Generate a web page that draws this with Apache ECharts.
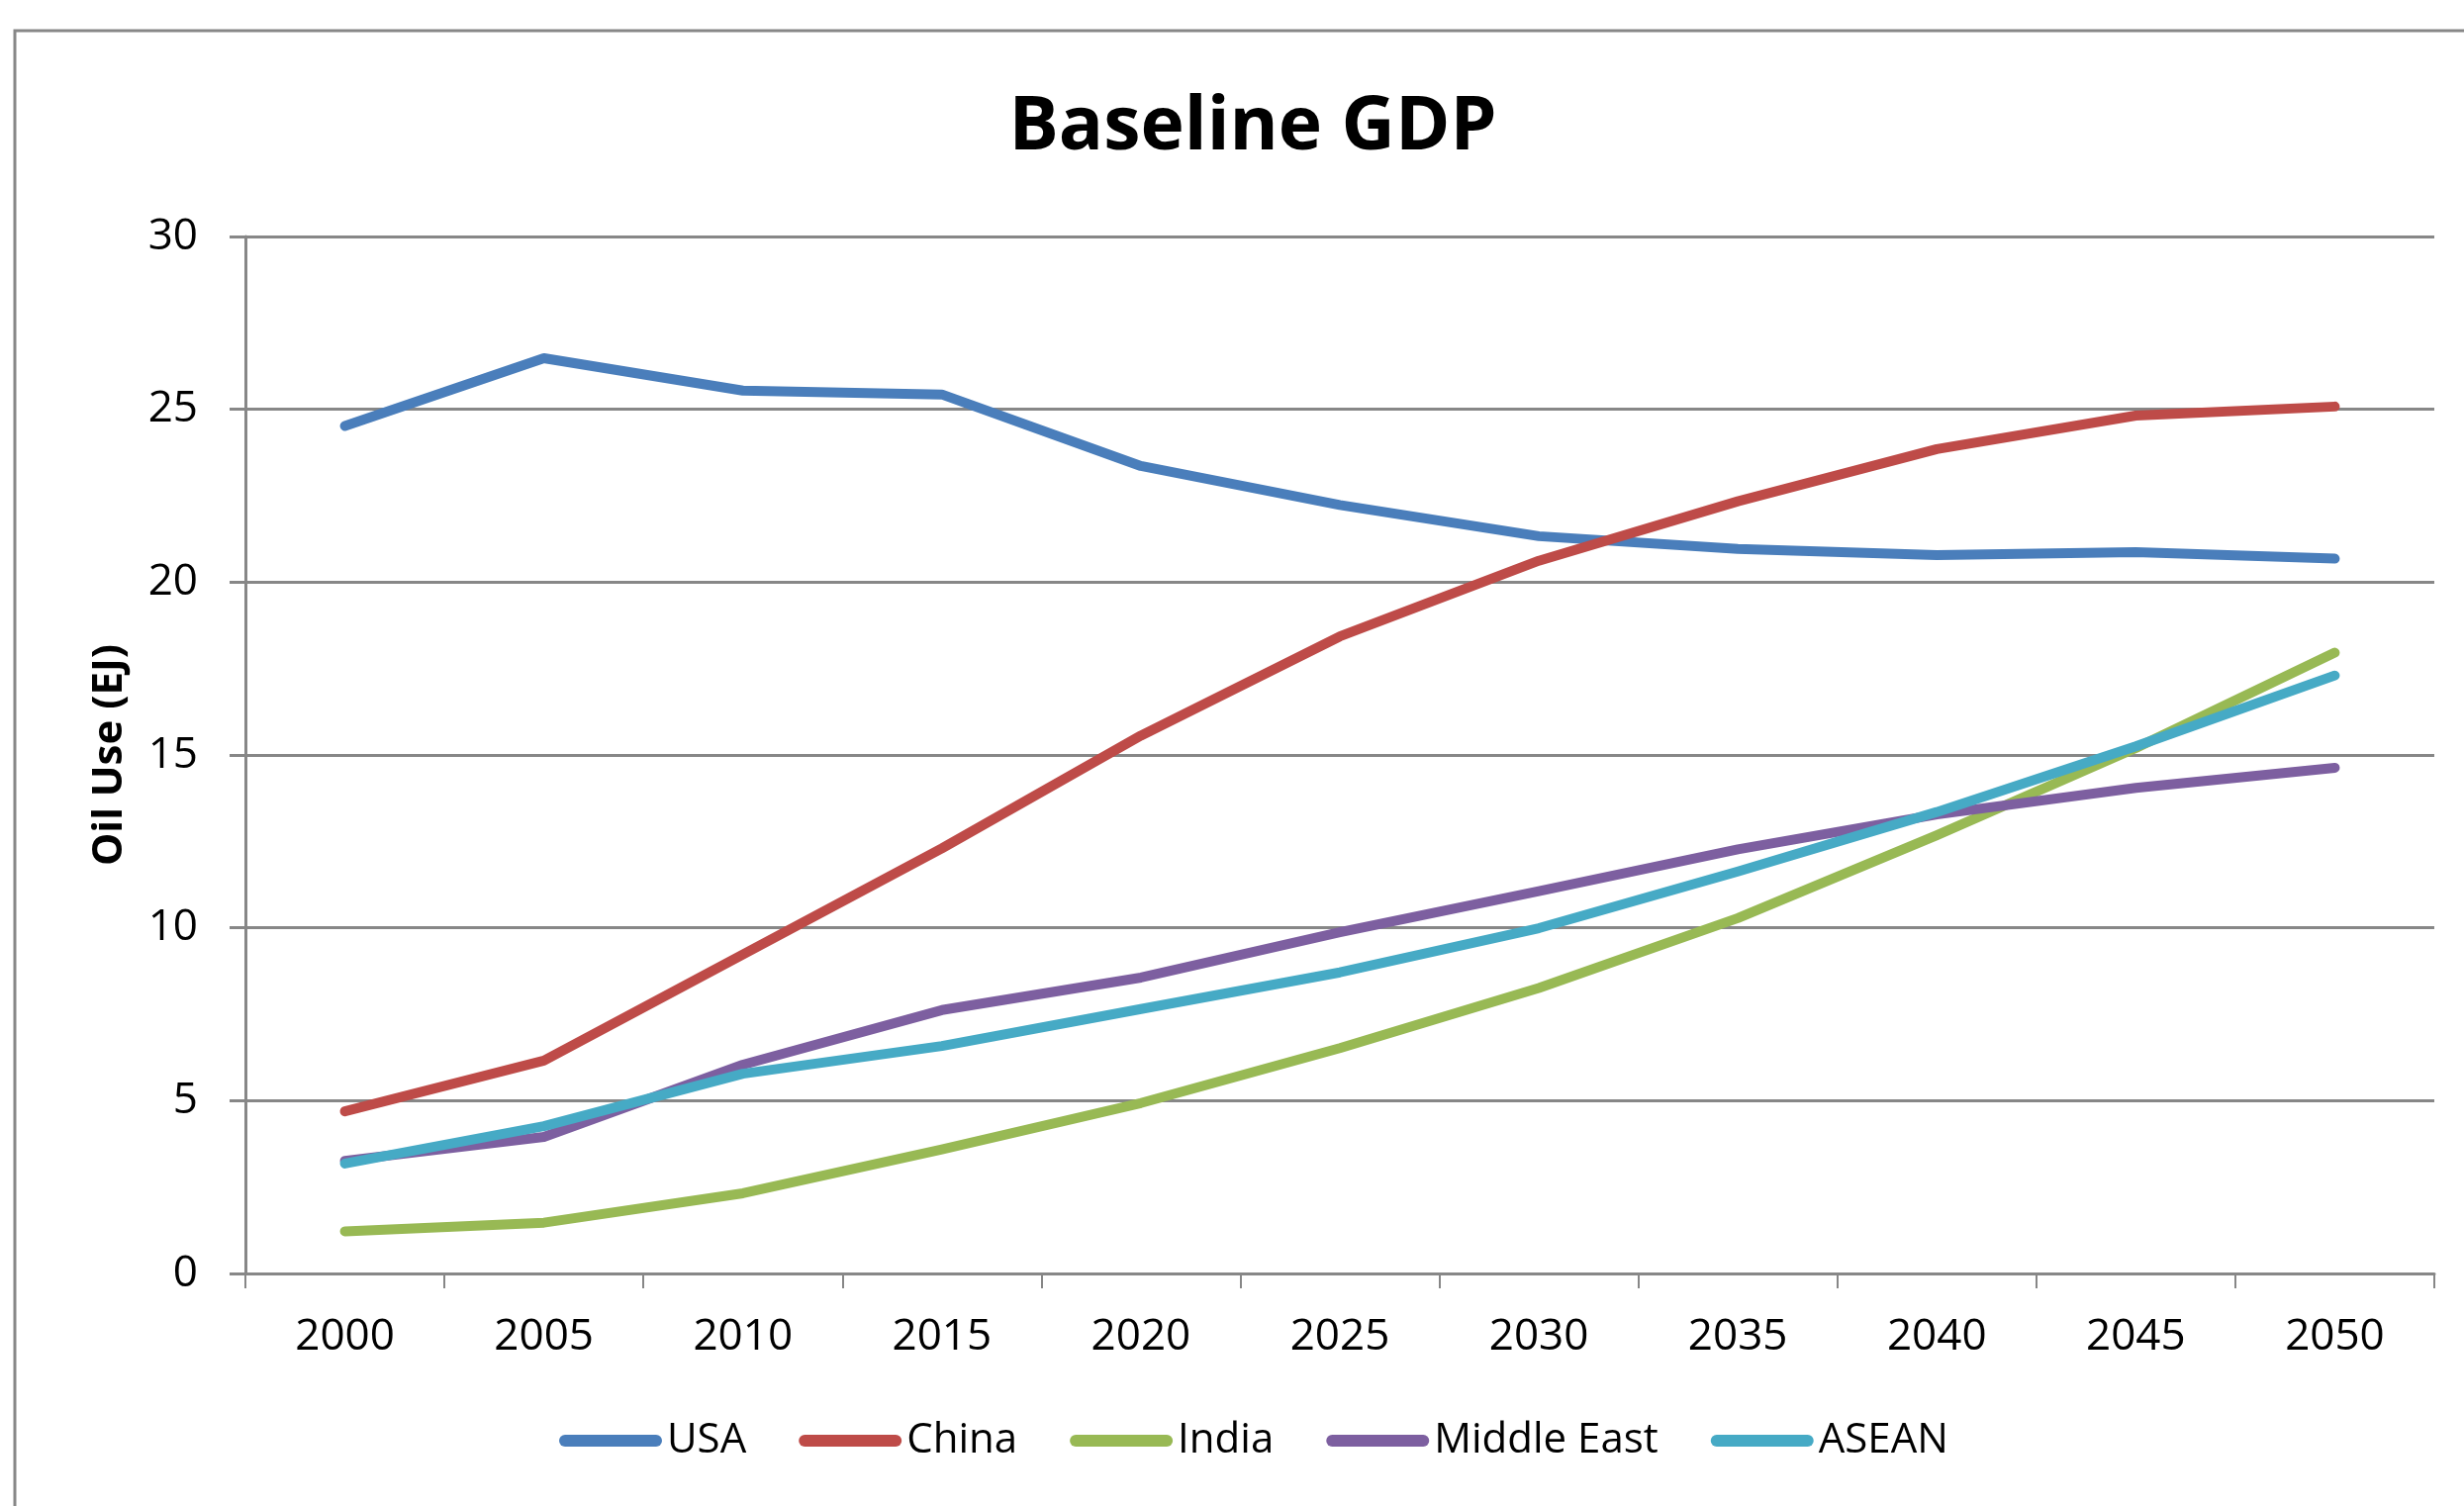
<!DOCTYPE html>
<html>
<head>
<meta charset="utf-8">
<title>Baseline GDP</title>
<script src="https://cdn.jsdelivr.net/npm/echarts@6/dist/echarts.min.js"></script>
<style>
  html, body { margin: 0; padding: 0; background: #ffffff; }
  #chart { width: 2490px; height: 1522px; }
</style>
</head>
<body>
<div id="chart"></div>
<script>
// Oil use by region under the baseline GDP scenario (EJ)
const years = ['2000', '2005', '2010', '2015', '2020', '2025', '2030', '2035', '2040', '2045', '2050'];
const usa        = [24.52, 26.48, 25.54, 25.43, 23.36, 22.23, 21.33, 20.96, 20.78, 20.87, 20.68];
const china      = [4.69, 6.16, 9.23, 12.30, 15.56, 18.43, 20.62, 22.34, 23.85, 24.82, 25.08];
const india      = [1.22, 1.47, 2.32, 3.59, 4.93, 6.52, 8.26, 10.28, 12.68, 15.20, 17.96];
const middleEast = [3.26, 3.95, 6.04, 7.62, 8.56, 9.87, 11.06, 12.27, 13.28, 14.05, 14.63];
const asean      = [3.18, 4.26, 5.78, 6.58, 7.65, 8.71, 9.99, 11.63, 13.35, 15.25, 17.30];
const yTicks = [0, 5, 10, 15, 20, 25, 30];

const FONT = '"Open Sans", "Noto Sans", sans-serif';
const GRID_GRAY = '#878787';

const seriesDefs = [
  { name: 'USA',         data: usa,        color: '#4A7EBB' },
  { name: 'China',       data: china,      color: '#BE4B48' },
  { name: 'India',       data: india,      color: '#98B954' },
  { name: 'Middle East', data: middleEast, color: '#7D5FA0' },
  { name: 'ASEAN',       data: asean,      color: '#46AAC5' }
];

// capsule shape used for the legend keys
const legendKey = 'path://M6,0 L98,0 A6,6 0 0 1 98,12 L6,12 A6,6 0 0 1 6,0 Z';

const chart = echarts.init(document.getElementById('chart'), null, { renderer: 'canvas' });

chart.setOption({
  animation: false,
  backgroundColor: '#ffffff',
  title: {
    text: 'Baseline GDP',
    left: 1266,
    top: 92,
    padding: 0,
    textAlign: 'center',
    textStyle: { fontFamily: FONT, fontWeight: 'bold', fontSize: 75, color: '#000000' }
  },
  graphic: [{
    type: 'rect',
    z: -1,
    silent: true,
    shape: { x: 15, y: 31, width: 2520, height: 1540 },
    style: { fill: null, stroke: GRID_GRAY, lineWidth: 3 }
  }],
  legend: {
    left: 560,
    top: 1430,
    itemWidth: 104,
    itemHeight: 12,
    itemGap: 53,
    icon: legendKey,
    textStyle: { fontFamily: FONT, fontSize: 42, color: '#000000' },
    data: seriesDefs.map(s => s.name)
  },
  grid: { left: 248, right: 30, top: 239, bottom: 235, containLabel: false },
  xAxis: {
    type: 'category',
    data: years,
    boundaryGap: true,
    axisLine: { show: true, lineStyle: { color: GRID_GRAY, width: 3 } },
    axisTick: { show: true, length: 15, lineStyle: { color: GRID_GRAY, width: 2 } },
    axisLabel: { margin: 42, fontFamily: FONT, fontSize: 44, color: '#000000' },
    splitLine: { show: false }
  },
  yAxis: {
    type: 'value',
    min: yTicks[0],
    max: yTicks[yTicks.length - 1],
    interval: 5,
    name: 'Oil Use (EJ)',
    nameLocation: 'middle',
    nameRotate: 90,
    nameGap: 116,
    nameTextStyle: { fontFamily: FONT, fontWeight: 'bold', fontSize: 42, color: '#000000' },
    axisLine: { show: true, lineStyle: { color: GRID_GRAY, width: 3 } },
    axisTick: { show: true, inside: false, length: 16, lineStyle: { color: GRID_GRAY, width: 3 } },
    axisLabel: { margin: 48, fontFamily: FONT, fontSize: 44, color: '#000000' },
    splitLine: { show: true, lineStyle: { color: GRID_GRAY, width: 3 } }
  },
  series: seriesDefs.map(s => ({
    name: s.name,
    type: 'line',
    data: s.data,
    symbol: 'none',
    smooth: false,
    color: s.color,
    lineStyle: { color: s.color, width: 10, cap: 'round', join: 'round' },
    itemStyle: { color: s.color },
    emphasis: { disabled: true }
  }))
});
</script>
</body>
</html>
